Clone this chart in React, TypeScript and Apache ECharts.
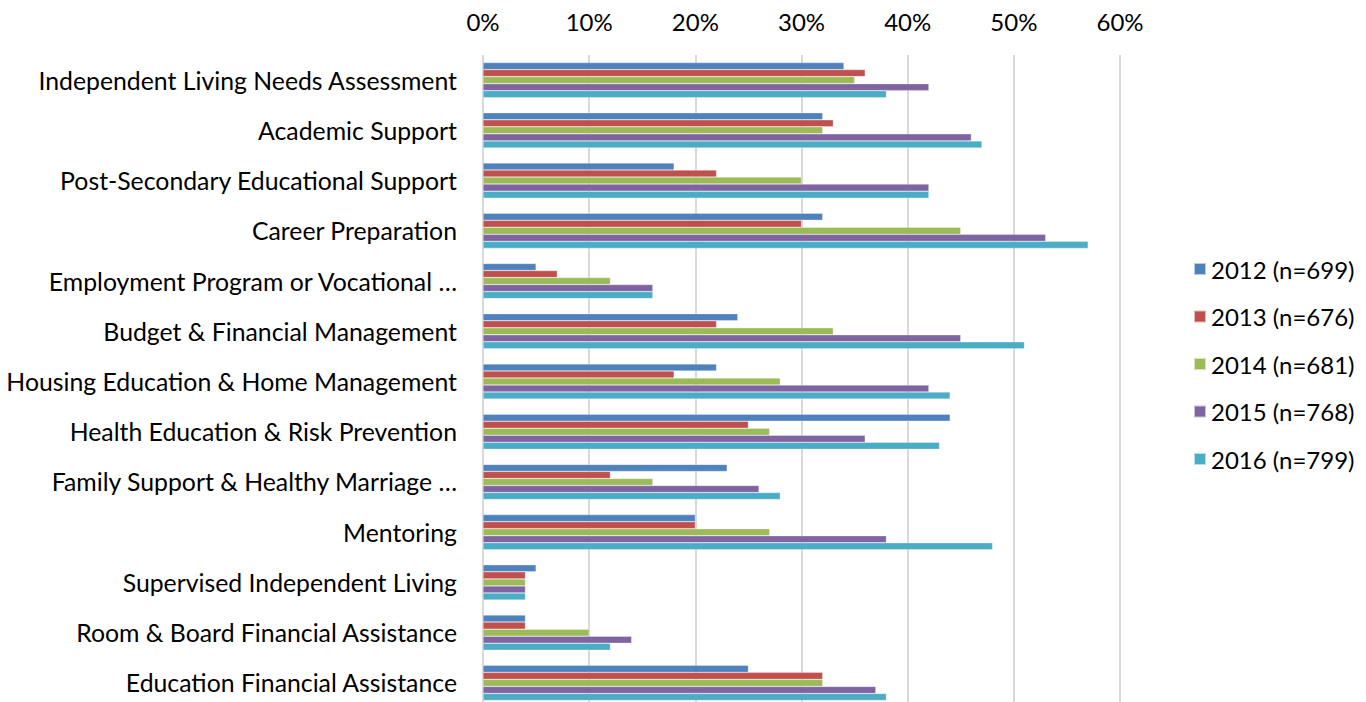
import React, { useEffect, useRef } from "react";
import * as echarts from "echarts";

const categories = [
  "Independent Living Needs Assessment",
  "Academic Support",
  "Post-Secondary Educational Support",
  "Career Preparation",
  "Employment Program or Vocational …",
  "Budget & Financial Management",
  "Housing Education & Home Management",
  "Health Education & Risk Prevention",
  "Family Support & Healthy Marriage …",
  "Mentoring",
  "Supervised Independent Living",
  "Room & Board Financial Assistance",
  "Education Financial Assistance",
];

const s2012 = [34, 32, 18, 32, 5, 24, 22, 44, 23, 20, 5, 4, 25];
const s2013 = [36, 33, 22, 30, 7, 22, 18, 25, 12, 20, 4, 4, 32];
const s2014 = [35, 32, 30, 45, 12, 33, 28, 27, 16, 27, 4, 10, 32];
const s2015 = [42, 46, 42, 53, 16, 45, 42, 36, 26, 38, 4, 14, 37];
const s2016 = [38, 47, 42, 57, 16, 51, 44, 43, 28, 48, 4, 12, 38];

const seriesNames = [
  "2012 (n=699)",
  "2013 (n=676)",
  "2014 (n=681)",
  "2015 (n=768)",
  "2016 (n=799)",
];
const seriesData = [s2012, s2013, s2014, s2015, s2016];
const colors = ["#4F81BD", "#C0504D", "#9BBB59", "#8064A2", "#4BACC6"];

const xTicks = { min: 0, max: 60, interval: 10 };

const FONT = "Lato";

export default function App() {
  const ref = useRef<HTMLDivElement>(null);

  useEffect(() => {
    document.body.style.margin = "0";
    document.body.style.overflow = "hidden";
    if (!ref.current) return;
    const chart = echarts.init(ref.current, undefined, { renderer: "svg" });
    chart.setOption({
      animation: false,
      backgroundColor: "#ffffff",
      color: colors,
      textStyle: { fontFamily: FONT },
      grid: { left: 483, right: 246, top: 55, bottom: 2, containLabel: false },
      legend: {
        orient: "vertical",
        left: 1188,
        top: 252,
        itemWidth: 12,
        itemHeight: 12,
        itemGap: 23.5,
        icon: "rect",
        textStyle: { fontFamily: FONT, fontSize: 24, color: "#000" },
        data: seriesNames,
      },
      xAxis: {
        type: "value",
        position: "top",
        min: xTicks.min,
        max: xTicks.max,
        interval: xTicks.interval,
        axisLine: { show: false },
        axisTick: { show: false },
        axisLabel: {
          formatter: "{value}%",
          fontFamily: FONT,
          fontSize: 24,
          color: "#000",
          margin: 22,
        },
        splitLine: { show: true, lineStyle: { color: "#D9D9D9", width: 2 } },
      },
      yAxis: {
        type: "category",
        inverse: true,
        data: categories,
        axisLine: { show: false },
        axisTick: { show: false },
        axisLabel: {
          fontFamily: FONT,
          fontSize: 24.8,
          color: "#000",
          margin: 26,
        },
      },
      series: seriesNames.map((name, i) => ({
        name,
        type: "bar",
        data: seriesData[i],
        barGap: "0%",
        barCategoryGap: "30%",
        itemStyle: { color: colors[i], borderColor: "rgba(255,255,255,0.6)", borderWidth: 0.5 },
      })),
    });
    return () => chart.dispose();
  }, []);

  return (
    <div
      ref={ref}
      style={{ position: "absolute", left: 0, top: 0, width: 1366, height: 710 }}
    />
  );
}
